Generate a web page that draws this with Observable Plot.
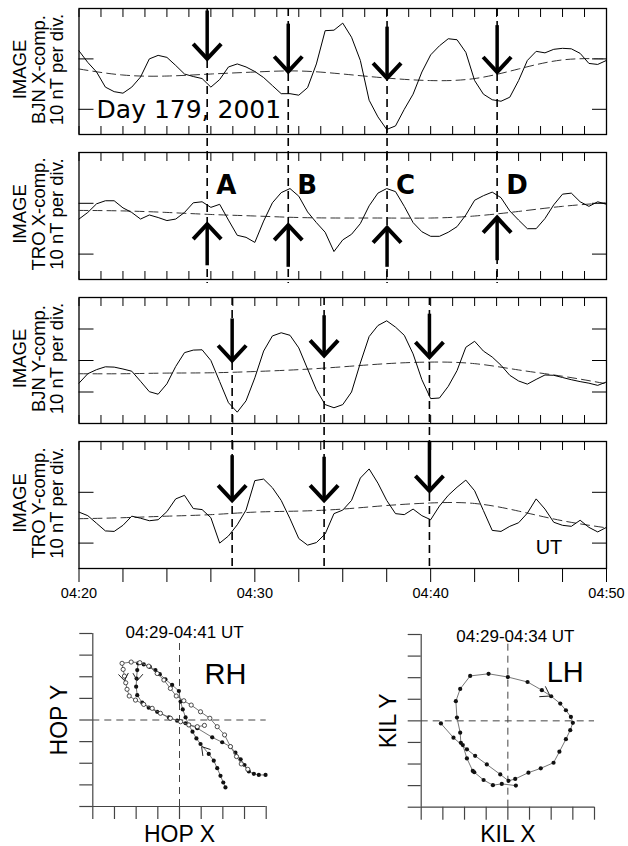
<!DOCTYPE html>
<html><head><meta charset="utf-8">
<script src="https://cdn.jsdelivr.net/npm/d3@7"></script>
<script src="https://cdn.jsdelivr.net/npm/@observablehq/plot@0.6"></script>
<style>
body{margin:0;background:#fff;}
#fig{position:relative;width:628px;height:846px;overflow:hidden;background:#fff;}
#fig > div{position:absolute;}
</style></head><body><div id="fig"></div>
<script>
// ---------- DATA ----------
// time axis: minutes after 04:20 UT, series sampled every 0.5 min
const sampleStep = 0.5;
const trendStep = 2.5;
const tickTimes = [0, 10, 20, 30];
const tickLabels = ["04:20", "04:30", "04:40", "04:50"];
const panelLabels = ["IMAGE\nBJN X-comp.\n10 nT per div.", "IMAGE\nTRO X-comp.\n10 nT per div.", "IMAGE\nBJN Y-comp.\n10 nT per div.", "IMAGE\nTRO Y-comp.\n10 nT per div."];

const bjnX = [11.6, 9.3, 7.4, 4.4, 3.5, 3.2, 4.4, 6.4, 10.0, 10.7, 10.3, 8.7, 7.0, 6.5, 6.1, 4.4, 5.9, 8.4, 9.0, 8.4, 7.5, 6.3, 4.7, 3.1, 3.1, 2.8, 4.3, 9.0, 15.6, 15.7, 17.1, 14.3, 9.7, 1.8, -1.5, -4.0, -3.3, 0.0, 3.0, 7.4, 10.8, 12.6, 14.0, 13.8, 11.3, 5.7, 3.0, 1.9, 1.6, 2.4, 5.7, 9.7, 11.5, 11.2, 11.9, 12.1, 12.0, 11.1, 9.1, 8.9, 9.7];
const troX = [6.9, 8.2, 9.9, 10.5, 10.5, 9.1, 8.2, 6.9, 7.7, 7.2, 6.6, 6.9, 8.2, 10.1, 10.3, 9.2, 9.8, 6.7, 3.7, 3.3, 2.3, 6.5, 10.1, 12.1, 12.9, 11.4, 8.3, 6.2, 4.3, 0.5, 2.8, 3.9, 6.0, 9.5, 12.0, 12.9, 12.3, 9.4, 6.2, 4.4, 3.5, 3.5, 4.3, 5.4, 7.7, 10.6, 11.5, 12.2, 11.1, 8.5, 6.7, 5.0, 5.0, 7.0, 9.7, 11.8, 12.0, 10.3, 9.4, 10.3, 9.8];
const bjnY = [2.8, 5.8, 7.1, 8.0, 7.9, 7.3, 6.6, 3.4, 0.1, -0.7, 2.6, 8.1, 12.5, 13.3, 13.4, 10.0, 3.3, -3.4, -6.4, -2.8, 4.5, 13.0, 17.8, 18.8, 18.0, 14.0, 7.3, 0.7, -4.0, -5.0, -4.0, 0.0, 9.2, 17.6, 21.1, 22.6, 20.6, 18.0, 12.1, 3.9, -2.1, -1.9, 1.8, 6.8, 14.2, 16.1, 13.0, 11.1, 8.5, 5.3, 3.5, 2.5, 4.0, 5.4, 5.3, 4.6, 3.9, 3.3, 2.8, 2.1, 3.2];
const troY = [6.1, 5.4, 3.9, 2.4, 2.3, 3.5, 5.3, 4.9, 4.4, 4.6, 6.2, 8.7, 9.4, 6.8, 6.6, 5.0, 0.0, 1.4, 3.6, 6.5, 12.3, 12.6, 10.9, 8.4, 4.8, 0.9, -0.4, 0.1, 1.8, 5.8, 6.5, 8.4, 12.8, 14.6, 11.8, 8.4, 5.8, 5.6, 6.7, 5.4, 4.6, 7.3, 9.4, 11.0, 12.4, 10.3, 6.4, 2.5, 2.3, 3.3, 4.0, 5.9, 8.7, 6.7, 4.1, 3.5, 3.3, 4.5, 3.1, 2.2, 3.1];

// smooth background trends, every 2.5 min
const trendBjnX = [8.0, 6.8, 6.6, 7.0, 7.4, 7.6, 7.0, 6.2, 5.7, 6.1, 8.0, 9.8, 10.0];
const trendTroX = [8.6, 8.5, 8.2, 7.8, 7.5, 7.2, 7.1, 7.1, 7.1, 7.5, 8.4, 9.4, 10.1];
const trendBjnY = [5.8, 5.8, 6.0, 6.1, 6.5, 7.1, 8.0, 9.0, 9.5, 9.0, 7.0, 5.0, 2.6];
const trendTroY = [4.8, 5.0, 5.3, 5.6, 6.1, 6.3, 6.7, 7.4, 7.9, 7.8, 6.3, 4.4, 3.0];

// events
const upperEventTimes = [7.29, 11.9, 17.52, 23.78];
const upperEventLabels = ["A", "B", "C", "D"];
const lowerEventTimes = [8.71, 13.94, 19.93];
const p1ArrowTail = [19.5, 16.9, 16.3, 16.6], p1ArrowTip = [10.0, 7.5, 6.2, 7.4];
const p2ArrowTail = [-2.3, -2.6, -2.6, -1.3], p2ArrowTip = [5.9, 5.7, 5.2, 7.2];
const p3ArrowTail = [23.2, 24.2, 24.7], p3ArrowTip = [10.0, 11.6, 11.1];
const p4ArrowTail = [17.2, 16.9, 20.0], p4ArrowTip = [8.4, 8.4, 10.3];

// hodograms
const hopFilledX = [2.12, 2.02, 1.89, 1.74, 1.58, 1.35, 0.97, 0.78, 0.6, 0.43, 0.28, 0.15, 0.05, -0.03, -0.34, -0.65, -0.91, -1.11, -1.37, -1.65, -1.91, -1.95, -1.98, -2.0, -1.95, -1.72, -1.42, -1.03, -0.49, -0.11, 0.28, 0.82, 1.51, 1.97, 2.35, 2.58, 2.82, 3.0, 3.2, 3.43, 3.66, 3.97];
const hopFilledY = [-3.12, -2.89, -2.58, -2.23, -1.88, -1.57, -1.11, -0.85, -0.54, -0.23, 0.12, 0.49, 0.85, 1.34, 1.62, 1.88, 2.12, 2.31, 2.46, 2.57, 2.62, 2.31, 1.92, 1.54, 1.15, 0.8, 0.57, 0.38, 0.12, -0.03, -0.15, -0.38, -0.8, -1.03, -1.23, -1.51, -1.82, -2.08, -2.38, -2.49, -2.54, -2.54];
const hopOpenX = [3.15, 2.85, 2.63, 2.35, 2.08, 1.74, 1.4, 0.97, 0.54, 0.2, -0.15, -0.42, -0.72, -1.03, -1.42, -1.83, -2.23, -2.65, -2.6, -2.54, -2.48, -2.42, -2.32, -2.03, -1.65, -1.26, -0.88, -0.42, 0.05, 0.43, 0.82, 1.15];
const hopOpenY = [-2.28, -2.03, -1.69, -1.23, -0.69, -0.31, 0.08, 0.38, 0.69, 0.89, 1.11, 1.46, 1.85, 2.15, 2.49, 2.65, 2.68, 2.62, 2.34, 2.03, 1.72, 1.42, 1.11, 0.92, 0.72, 0.54, 0.31, 0.08, -0.08, -0.23, -0.31, -0.25];
const kilX = [0.37, -0.28, -0.69, -1.12, -1.55, -1.62, -1.89, -2.08, -2.17, -2.2, -2.35, -2.4, -2.2, -1.74, -0.89, 0, 0.91, 1.57, 2.0, 2.42, 2.68, 2.91, 3.0, 2.88, 2.68, 2.38, 2.11, 1.52, 0.95, 0.34, 0.03, -0.35, -0.97, -1.51, -1.89, -2.51, -3.09];
const kilY = [-3.0, -2.92, -2.98, -2.74, -2.38, -2.32, -1.74, -1.12, -1.02, -0.55, 0.15, 0.91, 1.48, 2.08, 2.18, 2.03, 1.8, 1.42, 1.14, 0.8, 0.49, 0.18, -0.09, -0.43, -0.85, -1.43, -1.94, -2.2, -2.4, -2.69, -2.78, -2.48, -2.02, -1.62, -1.32, -0.78, -0.12];
const hopArrowX = [-2.54, -1.95, 1.02], hopArrowY = [1.82, 1.82, -1.23];
const kilArrowX = [1.95], kilArrowY = [1.15];

// ---------- RENDER ----------
const fig = document.getElementById("fig");
const W = 628, ML = 78.5, MR = 22;
const SANS = "Liberation Sans";
const svgStyle = "background: transparent; overflow: visible; font-family: 'Liberation Sans', Arial, sans-serif;";
const minorTicks = d3.range(0, 30.001, 1.25);
const majorTicks = d3.range(0, 30.001, 2.5);
const series = (vals, step) => vals.map((v, i) => ({t: i * step, v}));
const noText = () => "";

function chevron(dx, dy, w, h) {
  const n = Math.hypot(dx, dy); dx /= n; dy /= n;
  const px = -dy, py = dx;
  return {draw(ctx) {
    ctx.moveTo(-h * dx + w * px, -h * dy + w * py);
    ctx.lineTo(0, 0);
    ctx.lineTo(-h * dx - w * px, -h * dy - w * py);
  }};
}
const chevDown = chevron(0, 1, 14, 15), chevUp = chevron(0, -1, 14, 15);

function place(node, left, top, width) {
  const div = document.createElement("div");
  div.style.left = left + "px"; div.style.top = top + "px"; div.style.width = width + "px";
  div.appendChild(node); fig.appendChild(div);
}

const panelCfgs = [
  {values: bjnX, trend: trendBjnX, label: panelLabels[0], domain: [-5, 20], frameTop: 8, frameH: 126, leftTicks: [0, 10], rightTicks: [0, 10], events: upperEventTimes, tails: p1ArrowTail, tips: p1ArrowTip, sym: chevDown, rule: [20, -8.6]},
  {values: troX, trend: trendTroX, label: panelLabels[1], domain: [-5, 20], frameTop: 152, frameH: 127, leftTicks: [0, 10, 20], rightTicks: [0, 10], events: upperEventTimes, tails: p2ArrowTail, tips: p2ArrowTip, sym: chevUp, rule: [20, -5.8]},
  {values: bjnY, trend: trendBjnY, label: panelLabels[2], domain: [-10, 30], frameTop: 297, frameH: 126, leftTicks: [0, 10, 20], rightTicks: [0, 10, 20], events: lowerEventTimes, tails: p3ArrowTail, tips: p3ArrowTip, sym: chevDown, rule: [30, -15.7]},
  {values: troY, trend: trendTroY, label: panelLabels[3], domain: [-5, 20], frameTop: 441, frameH: 127, leftTicks: [0, 10], rightTicks: [0, 10, 20], events: lowerEventTimes, tails: p4ArrowTail, tips: p4ArrowTip, sym: chevDown, rule: [20, -5.5], last: true}
];

panelCfgs.forEach((c, k) => {
  const mt = Math.min(12, c.frameTop), mb = c.last ? 40 : 14;
  const height = mt + c.frameH + mb;
  const arrows = c.events.map((t, i) => ({t, tail: c.tails[i], tip: c.tips[i]}));
  const marks = [
    Plot.axisX(minorTicks, {anchor: "top", tickSize: -8, tickFormat: noText, label: null}),
    c.last
      ? Plot.axisX(majorTicks, {anchor: "bottom", tickSize: 14, tickFormat: noText, label: null})
      : Plot.axisX(minorTicks, {anchor: "bottom", tickSize: -8, tickFormat: noText, label: null}),
    Plot.axisY(c.leftTicks, {anchor: "left", tickSize: -15, tickFormat: noText, label: null}),
    Plot.axisY(c.rightTicks, {anchor: "right", tickSize: -15, tickFormat: noText, label: null}),
    Plot.frame({stroke: "black", strokeWidth: 1.3}),
    Plot.line(series(c.trend, trendStep), {x: "t", y: "v", curve: "natural", stroke: "#333", strokeWidth: 1, strokeDasharray: "9,5"}),
    Plot.line(series(c.values, sampleStep), {x: "t", y: "v", stroke: "black", strokeWidth: 1}),
    Plot.ruleX(c.events, {x: d => d, y1: c.rule[0], y2: c.rule[1], stroke: "black", strokeWidth: 1.6, strokeDasharray: "8,5"}),
    Plot.ruleX(arrows, {x: "t", y1: "tail", y2: "tip", stroke: "black", strokeWidth: 3.5}),
    Plot.dot(arrows, {x: "t", y: "tip", symbol: c.sym, fill: "none", stroke: "black", strokeWidth: 4, strokeLinejoin: "miter"}),
    Plot.text([c.label], {text: d => d, frameAnchor: "left", textAnchor: "middle", dx: -40, dy: -2, rotate: -90, fontSize: 18.5, fontFamily: SANS, lineHeight: 1.0})
  ];
  if (c.last) marks.push(Plot.text(tickTimes, {x: d => d, text: (d, i) => tickLabels[i], frameAnchor: "bottom", dy: 19, lineAnchor: "top", fontSize: 14.5, fontFamily: SANS}));
  if (k === 0) marks.push(Plot.text(["Day 179, 2001"], {text: d => d, x: 1.0, y: -1.8, textAnchor: "start", lineAnchor: "bottom", fontSize: 25, fontFamily: "DejaVu Sans"}));
  if (k === 1) marks.push(Plot.text(upperEventTimes, {x: d => d, y: 11.8, text: (d, i) => upperEventLabels[i], dx: 9, textAnchor: "start", lineAnchor: "bottom", fontSize: 26, fontWeight: "bold", fontFamily: "DejaVu Sans"}));
  if (k === 3) marks.push(Plot.text(["UT"], {text: d => d, x: 25.97, y: -2.2, textAnchor: "start", lineAnchor: "bottom", fontSize: 20, fontFamily: SANS}));
  const svg = Plot.plot({
    width: W, height, marginLeft: ML, marginRight: MR, marginTop: mt, marginBottom: mb,
    x: {domain: [0, 30]}, y: {domain: c.domain},
    style: svgStyle, marks
  });
  place(svg, 0, c.frameTop - mt, W);
});

// hodograms
function hodo(o) {
  const toPts = (X, Y) => X.map((x, i) => ({x, y: Y[i]}));
  const ticks = d3.range(-4, 4.001, 1);
  const marks = [
    Plot.axisY(ticks, {anchor: "left", tickSize: 13, tickFormat: noText, label: null, stroke: "#444", strokeWidth: 1.2}),
    Plot.axisX(ticks, {anchor: "bottom", tickSize: 13, tickFormat: noText, label: null, stroke: "#444", strokeWidth: 1.2}),
    Plot.ruleX([-4], {y1: -4, y2: 4, stroke: "#444", strokeWidth: 1.2}),
    Plot.ruleY([-4], {x1: -4, x2: 4, stroke: "#444", strokeWidth: 1.2}),
    Plot.ruleX([0], {y1: -4, y2: o.vTop, stroke: "#444", strokeDasharray: "7,5"}),
    Plot.ruleY([0], {x1: -4, x2: 4, stroke: "#444", strokeDasharray: "7,5"}),
    Plot.text([o.title], {text: d => d, x: o.titleX, frameAnchor: "top", dy: o.titleDy, lineAnchor: "bottom", fontSize: 17, fontFamily: SANS}),
    Plot.text([o.hand], {text: d => d, x: o.handX, y: o.handY, fontSize: 29, fontFamily: SANS}),
    Plot.text([o.yLabel], {text: d => d, frameAnchor: "left", textAnchor: "middle", dx: -33, rotate: -90, fontSize: 23, fontFamily: SANS}),
    Plot.text([o.xLabel], {text: d => d, frameAnchor: "bottom", dy: 35, lineAnchor: "bottom", fontSize: 23, fontFamily: SANS})
  ];
  o.paths.forEach(p => {
    const pts = toPts(p.X, p.Y);
    marks.push(Plot.line(pts, {x: "x", y: "y", stroke: "#666", strokeWidth: 0.9}));
    marks.push(p.open
      ? Plot.dot(pts, {x: "x", y: "y", r: 2.1, fill: "white", stroke: "#222", strokeWidth: 0.8})
      : Plot.dot(pts, {x: "x", y: "y", r: 2.1, fill: "#111", stroke: "none"}));
  });
  o.arrows.forEach(a => marks.push(Plot.dot([a], {x: "x", y: "y", symbol: chevron(a.dx, a.dy, a.w, a.h), fill: "none", stroke: "#222", strokeWidth: 1})));
  const svg = Plot.plot({
    width: 314, height: 236, marginLeft: o.ml, marginRight: o.mr, marginTop: o.mt, marginBottom: o.mb,
    x: {domain: [-4, 4]}, y: {domain: [-4, 4]}, style: svgStyle, marks
  });
  place(svg, o.left, 610, 314);
}

hodo({left: 0, ml: 92.3, mr: 48.3, mt: 23, mb: 40, vTop: 3.78,
  title: "04:29-04:41 UT", titleX: 0.23, titleDy: 4, hand: "RH", handX: 2.12, handY: 2.08,
  xLabel: "HOP X", yLabel: "HOP Y",
  paths: [{X: hopFilledX, Y: hopFilledY, open: false}, {X: hopOpenX, Y: hopOpenY, open: true}],
  arrows: [
    {x: hopArrowX[0], y: hopArrowY[0], dx: 0.15, dy: 1, w: 5, h: 7},
    {x: hopArrowX[1], y: hopArrowY[1], dx: -0.1, dy: 1, w: 5, h: 7},
    {x: hopArrowX[2], y: hopArrowY[2], dx: -0.64, dy: -0.77, w: 5, h: 8}
  ]});

hodo({left: 314, ml: 106.7, mr: 34, mt: 24, mb: 39.3, vTop: 3.57,
  title: "04:29-04:34 UT", titleX: 0.35, titleDy: 7, hand: "LH", handX: 2.65, handY: 2.23,
  xLabel: "KIL X", yLabel: "KIL Y",
  paths: [{X: kilX, Y: kilY, open: false}],
  arrows: [{x: kilArrowX[0], y: kilArrowY[0], dx: 0.86, dy: 0.5, w: 6, h: 9}]});
</script></body></html>
